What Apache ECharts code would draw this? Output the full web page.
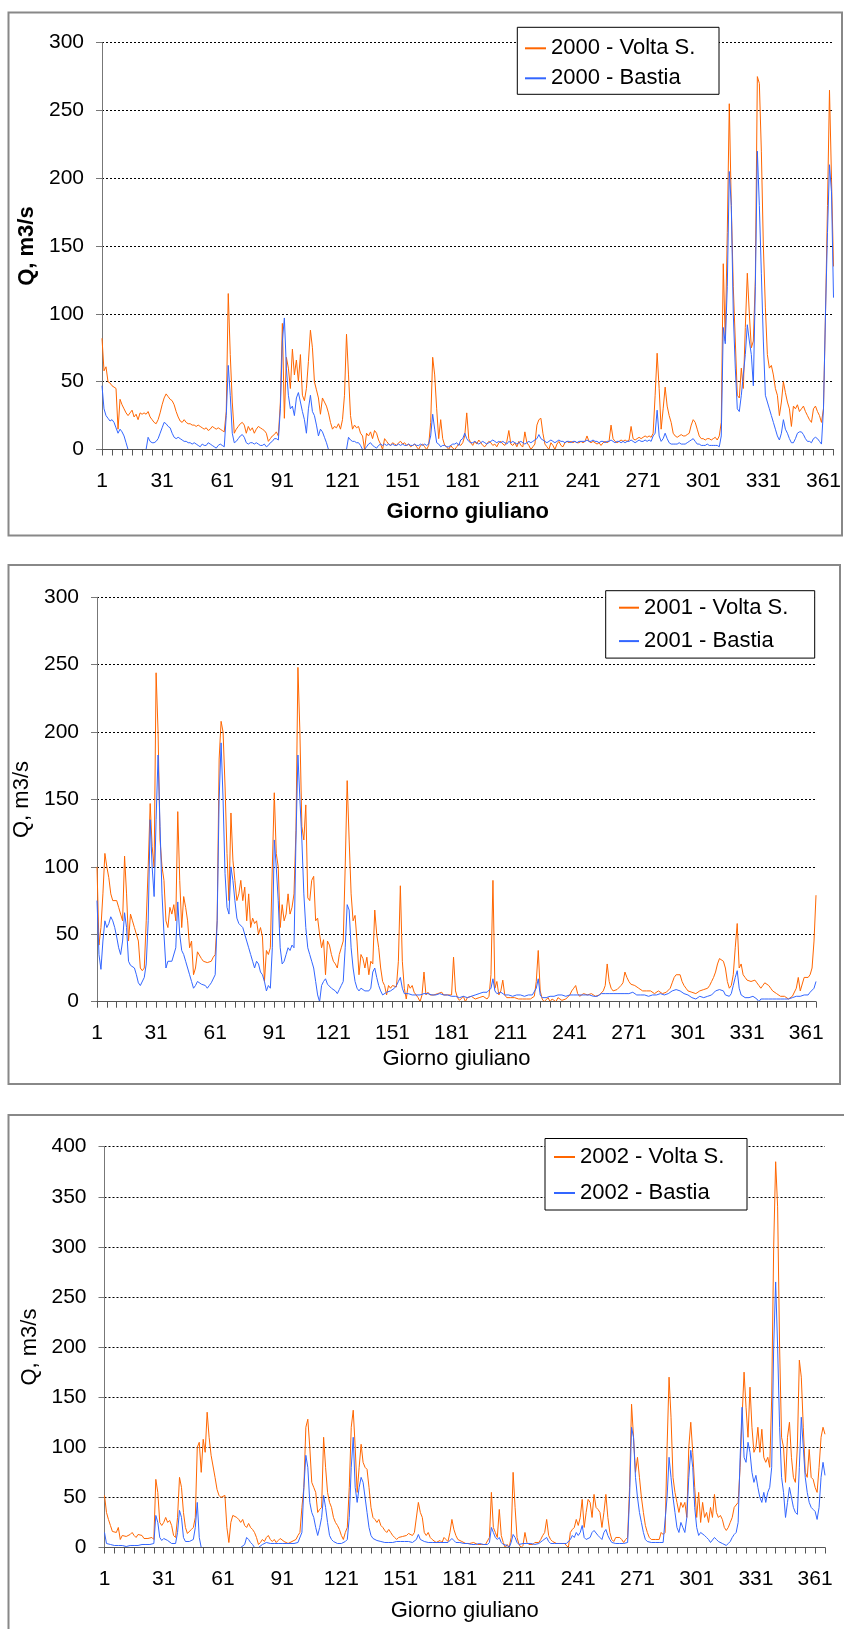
<!DOCTYPE html>
<html><head><meta charset="utf-8">
<script src="https://cdn.jsdelivr.net/npm/echarts@6/dist/echarts.min.js"></script>
<style>html,body{margin:0;padding:0;background:#fff}#c{width:844px;height:1629px}</style>
</head><body><div id="c"></div>
<script>
// categories: Julian days 1..366
const days = [];
for (let i = 1; i <= 366; i++) days.push(String(i));

const years = ['2000', '2001', '2002'];

const volta2000 = [82,58,61,50,49,47,46,45,15,37,
33,30,27,25,27,29,24,26,22,27,
26,27,26,28,24,22,20,19,22,27,
33,38,41,39,37,36,33,28,24,21,
20,22,20,19,19,18,18,17,18,17,
16,15,16,14,15,17,16,15,16,15,
14,13,28,115,70,35,12,15,17,19,
20,18,12,17,14,16,12,15,17,16,
15,14,12,6,8,10,11,13,10,35,
93,23,68,60,45,74,55,66,50,70,
40,36,45,65,88,75,50,44,38,26,
38,35,32,27,20,15,17,16,19,15,
22,40,85,55,25,15,18,16,17,12,
10,0,12,10,13,8,14,12,7,4,
0,8,6,4,3,5,4,3,5,6,
4,5,3,4,2,3,4,2,0,3,
4,2,0,3,20,68,55,30,8,22,
8,3,2,0,3,1,0,2,4,3,
5,10,27,8,5,3,6,4,7,5,
3,2,4,6,5,3,4,2,5,6,
4,3,6,14,4,3,5,2,6,3,
2,13,5,3,0,2,4,18,22,23,
12,4,2,0,5,3,0,4,6,3,
2,5,6,5,6,5,6,5,5,6,
5,6,10,6,5,6,5,4,5,3,
5,6,5,6,18,8,6,5,6,7,
6,7,6,7,17,8,7,8,9,8,
9,10,9,10,9,12,40,71,45,15,
30,46,32,25,20,12,10,9,10,11,
10,10,11,12,18,22,20,15,10,8,
8,7,8,8,7,8,9,7,10,20,
137,80,160,255,180,120,80,40,38,60,
45,90,130,100,75,80,125,275,270,220,
150,105,70,60,62,55,45,40,25,35,
50,42,35,30,17,32,30,33,28,30,
32,28,25,22,20,30,32,28,25,20,
30,100,180,265,200,135];

const bastia2000 = [47,30,25,23,21,22,20,16,12,15,
13,10,5,0,0,0,0,0,0,0,
0,0,0,9,6,5,5,6,8,12,
16,20,19,17,16,12,9,8,9,8,
7,6,6,5,5,4,5,4,3,2,
4,3,3,5,4,3,2,1,3,4,
3,2,25,62,40,12,5,6,8,10,
11,9,5,4,5,5,4,5,4,3,
3,4,2,3,5,6,8,8,7,30,
80,97,60,40,30,32,25,38,42,35,
28,22,12,30,40,28,25,18,10,15,
13,9,5,0,0,0,0,0,0,0,
0,0,0,9,7,6,6,5,5,3,
0,0,2,4,5,3,2,1,3,4,
3,4,3,4,3,4,3,3,4,3,
4,3,3,4,3,3,4,3,3,4,
3,4,3,4,10,26,15,5,4,2,
3,3,2,2,3,4,4,5,3,7,
8,12,8,6,5,5,6,5,4,5,
6,5,4,5,6,7,6,5,6,5,
6,5,4,6,5,6,5,4,5,6,
5,4,5,6,5,6,7,8,11,8,
7,6,5,6,7,6,5,6,7,6,
6,5,6,6,5,6,6,5,6,6,
6,6,7,6,6,7,6,6,5,6,
6,5,6,6,7,6,5,6,6,5,
6,5,6,6,7,6,5,6,7,6,
6,7,6,7,6,10,12,29,10,6,
8,12,8,5,4,4,4,4,5,4,
4,4,5,6,7,8,6,4,4,3,
3,3,4,3,3,3,3,3,2,10,
90,78,120,205,180,100,60,30,28,40,
55,70,92,80,70,47,120,220,180,130,
80,40,35,30,25,20,15,10,7,12,
22,15,12,8,5,5,8,12,13,13,
11,8,6,6,5,8,9,8,6,4,
30,100,160,210,190,112];

const volta2001 = [100,42,55,80,110,100,92,80,75,76,
75,70,65,60,108,80,45,65,60,55,
50,45,25,23,25,60,100,147,115,100,
244,200,120,100,90,60,55,70,65,72,
60,141,90,55,78,70,60,40,45,20,
25,37,36,32,30,31,29,28,30,33,
35,60,180,208,200,160,110,75,140,105,
90,75,80,90,75,85,60,80,55,62,
58,60,50,55,48,15,38,35,40,100,
155,110,100,55,72,60,65,80,65,70,
80,127,248,200,130,120,146,77,75,90,
93,60,62,50,40,46,20,45,42,35,
30,28,25,35,40,45,100,164,120,80,
60,64,45,20,35,32,25,33,20,30,
28,68,50,40,25,15,12,5,12,10,
12,13,11,30,86,30,10,2,13,10,
12,7,5,3,0,5,22,5,7,5,
6,5,4,6,5,7,5,4,5,6,
5,33,8,3,1,2,4,0,3,2,
4,3,2,1,3,2,4,3,2,4,
20,90,10,15,5,8,16,5,3,2,
3,2,3,3,2,3,2,3,2,3,
2,3,4,15,38,8,2,0,1,3,
0,2,1,0,3,2,1,0,2,3,
5,8,10,12,6,4,5,6,7,5,
4,6,5,4,3,5,6,8,12,28,
15,10,8,7,9,10,12,14,22,18,
15,13,14,12,11,10,9,8,9,8,
7,8,7,6,7,8,7,6,7,7,
8,10,14,18,20,19,20,15,12,10,
8,8,7,6,6,7,8,8,9,10,
10,12,15,18,22,28,32,33,30,25,
15,10,12,20,40,58,25,28,20,18,
16,15,15,14,16,14,12,10,12,14,
13,12,10,8,7,6,5,4,3,4,
3,2,3,4,5,10,18,8,9,18,
19,18,20,25,45,79];

const bastia2001 = [75,35,24,45,60,55,58,63,60,55,
48,40,35,45,66,55,30,27,28,25,
20,14,12,13,18,28,60,135,100,78,
135,183,130,80,50,25,30,31,30,30,
40,74,50,38,35,30,25,20,15,10,
12,15,14,13,14,12,10,12,14,15,
20,60,150,192,150,95,70,65,100,90,
75,62,58,57,55,50,45,40,35,30,
25,30,28,22,20,15,8,12,10,40,
120,100,75,40,28,30,35,40,38,42,
40,120,183,150,120,80,55,40,35,30,
25,15,5,0,12,15,17,13,12,10,
11,8,6,9,12,15,40,72,68,40,
25,15,10,8,10,9,8,9,8,10,
22,25,18,12,8,5,6,7,8,8,
9,10,12,15,18,10,6,5,6,5,
5,6,5,6,5,6,6,5,6,5,
5,6,5,5,6,5,5,4,5,5,
4,5,4,3,3,3,4,3,3,4,
4,4,5,5,6,6,7,6,7,6,
10,17,8,6,5,7,6,5,6,5,
5,4,5,5,4,5,5,4,5,5,
4,5,6,10,17,5,3,2,3,4,
4,5,4,5,5,4,5,5,4,5,
5,6,5,6,5,4,5,6,5,4,
5,4,4,5,4,5,6,5,6,7,
6,5,6,7,6,7,6,7,6,7,
6,6,7,6,5,6,5,6,5,5,
4,5,5,4,5,5,6,5,5,6,
6,7,8,8,9,9,8,7,6,6,
5,4,3,3,2,3,4,3,3,4,
4,5,5,6,8,9,9,10,8,5,
4,4,6,12,18,23,10,5,4,3,
4,3,3,4,3,2,0,2,2,2,
2,2,2,2,2,2,2,2,1,2,
2,2,2,3,3,4,5,4,5,5,
6,5,7,8,10,15];

const volta2002 = [52,35,28,22,16,17,15,20,8,12,
13,11,12,13,15,12,10,13,14,12,
9,10,9,8,10,8,68,55,25,22,
25,30,25,27,22,12,10,30,70,60,
35,20,14,15,18,20,30,100,105,75,
108,95,135,110,92,93,70,58,52,50,
51,52,20,5,25,32,31,30,28,25,
28,22,20,24,20,18,15,10,3,5,
8,6,10,12,8,6,8,5,7,9,
8,6,5,4,5,6,7,8,12,15,
40,60,120,128,100,65,60,55,35,38,
40,110,80,55,45,40,30,25,22,18,
12,8,15,20,60,120,137,100,55,80,
103,85,80,78,60,40,30,28,25,28,
22,20,17,15,18,15,12,10,8,10,
9,11,10,12,14,13,12,15,14,45,
35,30,15,12,15,10,8,7,5,6,
7,5,10,8,6,15,28,18,12,8,
7,6,5,4,5,4,3,5,4,3,
2,3,4,3,2,10,55,20,15,10,
38,12,5,0,3,0,10,75,40,10,
3,0,2,15,5,3,4,3,5,4,
5,8,12,15,28,12,8,6,5,4,
3,4,5,4,3,0,15,18,20,28,
22,30,48,20,35,48,45,30,53,40,
38,35,20,35,53,30,15,8,6,10,
9,10,8,5,8,10,60,143,110,75,
90,70,50,35,22,15,10,8,7,8,
7,8,15,13,15,100,170,130,70,55,
45,35,45,40,45,30,100,125,95,60,
30,55,25,45,30,35,25,40,30,53,
35,30,32,28,20,17,20,25,30,40,
40,45,80,130,175,140,110,160,120,95,
100,120,95,118,90,85,90,80,150,300,
385,340,200,110,100,65,110,125,90,70,
65,100,187,170,120,75,70,98,70,68,
60,55,80,110,120,113];

const bastia2002 = [15,4,3,3,2,2,2,2,1,2,
2,1,2,2,3,2,2,2,2,3,
2,3,3,3,4,4,32,25,10,7,
9,8,7,6,4,3,4,15,37,30,
10,6,5,6,7,8,20,45,10,0,
0,0,0,0,0,0,0,0,0,0,
0,0,0,0,0,0,0,0,0,0,
0,3,10,8,5,3,0,0,0,1,
3,4,5,6,4,3,4,3,4,5,
4,3,4,3,4,3,4,4,5,5,
15,60,92,80,45,35,30,20,12,20,
30,52,40,25,12,8,6,5,4,5,
4,5,6,8,30,80,110,60,45,60,
70,65,50,35,20,12,9,8,7,7,
6,6,5,6,5,6,5,5,6,5,
6,5,6,5,6,6,5,6,8,13,
8,7,6,5,5,6,5,4,5,6,
5,4,5,6,5,6,9,7,5,4,
5,4,4,3,4,4,3,4,3,3,
4,3,3,4,3,5,20,15,10,8,
10,5,3,2,2,0,5,13,10,5,
3,4,4,3,4,3,4,4,3,4,
4,5,7,8,10,6,4,3,4,3,
4,3,4,3,4,3,8,12,10,15,
12,15,22,10,8,9,10,15,17,16,
12,10,8,15,18,12,8,5,4,4,
3,4,5,4,5,5,50,120,110,70,
50,35,25,15,8,6,5,5,5,5,
5,5,5,5,6,50,90,70,50,35,
20,15,25,20,15,30,70,97,80,40,
20,12,15,14,12,10,8,5,6,10,
8,6,5,4,3,2,4,6,10,13,
15,25,90,140,90,85,105,95,75,65,
72,60,50,45,55,45,55,60,80,200,
265,200,120,70,55,30,45,60,50,40,
35,33,80,130,100,70,55,45,40,38,
36,28,40,70,85,72];

const yMaxes = [300, 300, 400];
const voltaSeries = [volta2000, volta2001, volta2002];
const bastiaSeries = [bastia2000, bastia2001, bastia2002];

const FONT = "'Liberation Sans', Arial, Helvetica, sans-serif";
const ORANGE = '#FF6600', BLUE = '#3366FF';

const layout = [
  {grid:{left:102, top:42.7, width:733, height:406.8}, bold:true, yNameGap:58, xNameGap:51,
   legend:{left:517.3, top:27.3, padding:[10,6,5,7.7], itemGap:8, itemWidth:21, textWidth:162}},
  {grid:{left:97, top:597.3, width:719, height:404.4}, bold:false, yNameGap:54, xNameGap:46.5,
   legend:{left:605.7, top:590.7, padding:[6,11.7,6,13.3], itemGap:11.4, itemWidth:20, textWidth:159}},
  {grid:{left:104.5, top:1146.7, width:720.5, height:400.8}, bold:false, yNameGap:60.5, xNameGap:52,
   legend:{left:545, top:1138.5, padding:[7.5,7,6,9], itemGap:14, itemWidth:21, textWidth:160}}
];

const grids = [], xAxes = [], yAxes = [], series = [], legends = [];
years.forEach((yr, i) => {
  const L = layout[i];
  grids.push(Object.assign({containLabel:false}, L.grid));
  const nameStyle = {fontSize:22, fontWeight: L.bold ? 'bold' : 'normal', color:'#000', fontFamily:FONT};
  xAxes.push({
    gridIndex:i, type:'category', data:days, boundaryGap:false, z:5,
    name:'Giorno giuliano', nameLocation:'middle', nameGap:L.xNameGap, nameTextStyle:nameStyle,
    axisLine:{show:true, onZero:false, lineStyle:{color:'#555', width:1}},
    axisTick:{show:true, length:6, interval:(idx) => idx % 5 === 0, lineStyle:{color:'#555', width:1}},
    axisLabel:{interval:(idx) => idx % 30 === 0, fontSize:21, color:'#000', margin:21.5, fontFamily:FONT},
    splitLine:{show:false}
  });
  yAxes.push({
    gridIndex:i, type:'value', min:0, max:yMaxes[i], interval:50,
    name:'Q, m3/s', nameLocation:'middle', nameRotate:90, nameGap:L.yNameGap, nameTextStyle:nameStyle,
    axisLine:{show:true, lineStyle:{color:'#777', width:1}},
    axisTick:{show:true, length:6, lineStyle:{color:'#777', width:1}},
    axisLabel:{fontSize:21, color:'#000', margin:18, fontFamily:FONT},
    splitLine:{show:true, lineStyle:{color:'#000', type:[2,2], width:1}}
  });
  const nV = yr + ' - Volta S.', nB = yr + ' - Bastia';
  series.push({type:'line', name:nV, xAxisIndex:i, yAxisIndex:i, data:voltaSeries[i],
    showSymbol:false, symbol:'none', lineStyle:{color:ORANGE, width:1}, itemStyle:{color:ORANGE}, z:2});
  series.push({type:'line', name:nB, xAxisIndex:i, yAxisIndex:i, data:bastiaSeries[i],
    showSymbol:false, symbol:'none', lineStyle:{color:BLUE, width:1}, itemStyle:{color:BLUE}, z:3});
  legends.push({
    data:[nV, nB], orient:'vertical', left:L.legend.left, top:L.legend.top,
    padding:L.legend.padding, itemGap:L.legend.itemGap, itemWidth:L.legend.itemWidth, itemHeight:2,
    icon:'rect', backgroundColor:'#fff', borderColor:'#000', borderWidth:1, borderRadius:0,
    selectedMode:false,
    textStyle:{fontSize:22, color:'#000', fontFamily:FONT, width:L.legend.textWidth, lineHeight:22}
  });
});

const frame = (x, y, w, h) => ({type:'rect', silent:true, z:-1,
  shape:{x:x, y:y, width:w, height:h}, style:{fill:'none', stroke:'#888', lineWidth:2}});

const chart = echarts.init(document.getElementById('c'), null, {renderer:'canvas'});
chart.setOption({
  animation:false,
  backgroundColor:'#fff',
  textStyle:{fontFamily:FONT},
  graphic:[frame(8.5, 12.5, 833.5, 523), frame(8.5, 565, 831.5, 519), frame(8.5, 1115, 840, 530)],
  grid:grids, xAxis:xAxes, yAxis:yAxes, legend:legends, series:series
});
</script></body></html>
